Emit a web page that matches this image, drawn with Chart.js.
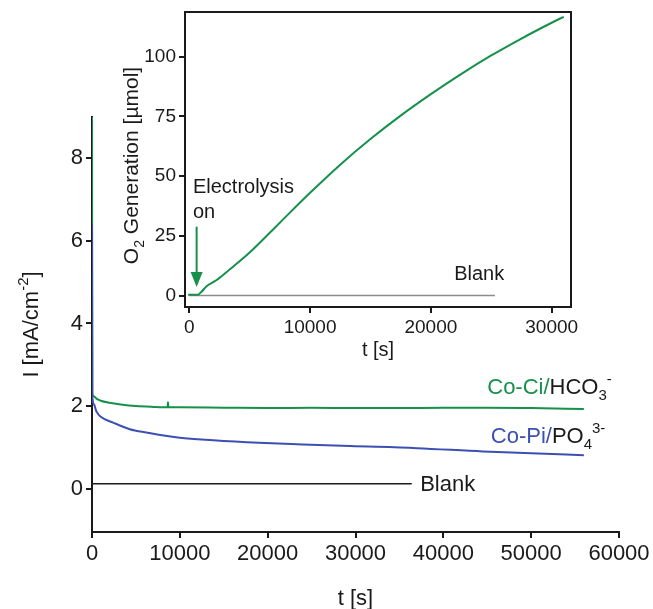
<!DOCTYPE html>
<html>
<head>
<meta charset="utf-8">
<script src="https://cdn.jsdelivr.net/npm/chart.js@4"></script>
<style>
  body { margin: 0; background: #fff; }
  #wrap { position: relative; width: 653px; height: 609px; }
  #mainChart { position: absolute; left: 0; top: 0; }
  #insetChart { position: absolute; left: 100px; top: 0; }
</style>
</head>
<body>
<div id="wrap">
  <canvas id="mainChart" width="653" height="609"></canvas>
  <canvas id="insetChart" width="500" height="370"></canvas>
</div>
<script>
'use strict';

// main plot data (time in s, current in mA/cm2)
var ciTime = [0, 40, 200, 500, 1000, 2000, 3500, 5000, 7000, 8600, 8650, 8700, 10000, 15000, 20000, 25000, 30000, 35000, 40000, 45000, 50000, 56000];
var ciCurrent = [9.0, 2.3, 2.24, 2.18, 2.13, 2.08, 2.03, 2.0, 1.98, 1.97, 2.09, 1.97, 1.97, 1.96, 1.95, 1.96, 1.95, 1.95, 1.96, 1.96, 1.95, 1.93];
var piTime = [0, 30, 200, 500, 1000, 2400, 4300, 6200, 10000, 13800, 19000, 24000, 29400, 37000, 44500, 50000, 56000];
var piCurrent = [6.4, 2.3, 2.05, 1.87, 1.74, 1.6, 1.44, 1.36, 1.23, 1.17, 1.11, 1.07, 1.03, 0.98, 0.9, 0.86, 0.81];
var blankTime = [0, 36400];
var blankCurrent = [0.12, 0.12];
var mainXTicks = [0, 10000, 20000, 30000, 40000, 50000, 60000];
var mainYTicks = [0, 2, 4, 6, 8];

// inset data (time in s, O2 in umol)
var o2Time = [-90, 700, 1000, 1440, 2270, 3370, 5000, 7500, 10000, 12500, 15000, 17500, 20000, 22500, 25000, 27500, 30000, 31000];
var o2Amount = [0.3, 0.3, 1.5, 3.9, 6.5, 11, 18, 30.5, 43, 54.8, 65.5, 75.3, 84.3, 92.7, 100.5, 107.6, 114.2, 116.7];
var o2BlankTime = [0, 25300];
var o2BlankAmount = [0, 0];
var insetXTicks = [0, 10000, 20000, 30000];
var insetYTicks = [0, 25, 50, 75, 100];

var green = '#16904a';
var blue = '#3c50b4';
var ink = '#1a1a1a';
var fontFam = '"Liberation Sans", Arial, sans-serif';

function toPoints(xs, ys) {
    var pts = [];
    for (var i = 0; i < xs.length; i++) {
        pts.push({ x: xs[i], y: ys[i] });
    }
    return pts;
}

// draws text made of parts, some of them sub or superscript
function drawRich(ctx, parts, x, y, size, align) {
    var small = Math.round(size * 0.68);
    var total = 0;
    for (var i = 0; i < parts.length; i++) {
        ctx.font = (parts[i].s ? small : size) + 'px ' + fontFam;
        parts[i].w = ctx.measureText(parts[i].t).width;
        total += parts[i].w;
    }
    var cx = align === 'center' ? x - total / 2 : x;
    ctx.textAlign = 'left';
    ctx.textBaseline = 'alphabetic';
    for (var j = 0; j < parts.length; j++) {
        var p = parts[j];
        var dy = 0;
        if (p.s === 'sub') dy = size * 0.3;
        if (p.s === 'sup') dy = -size * 0.45;
        ctx.font = (p.s ? small : size) + 'px ' + fontFam;
        ctx.fillStyle = p.c || ink;
        ctx.fillText(p.t, cx, y + dy);
        cx += p.w;
    }
}

function keepTicks(list) {
    return function (scale) {
        scale.ticks = list.map(function (v) { return { value: v }; });
    };
}

function noOverhang(scale) {
    scale.paddingLeft = 0;
    scale.paddingRight = 0;
    scale.paddingTop = 0;
    scale.paddingBottom = 0;
}

function axisStyle(size, ticks, extra) {
    var s = {
        type: 'linear',
        afterBuildTicks: keepTicks(ticks),
        grid: { drawOnChartArea: false, drawTicks: true, tickLength: 6, color: ink, lineWidth: 2 },
        border: { display: true, color: ink, width: 2 },
        ticks: {
            color: ink, font: { family: fontFam, size: size }, padding: 3, maxRotation: 0, autoSkip: false,
            callback: function (v) { return String(v); }
        }
    };
    for (var k in extra) s[k] = extra[k];
    return s;
}

// labels for the main plot
var mainLabels = {
    id: 'mainLabels',
    afterDraw: function (chart) {
        var ctx = chart.ctx;
        var xs = chart.scales.x;
        var ys = chart.scales.y;
        var area = chart.chartArea;
        ctx.save();
        drawRich(ctx, [{ t: 'Co-Ci/', c: green }, { t: 'HCO' }, { t: '3', s: 'sub' }, { t: '-', s: 'sup' }],
            xs.getPixelForValue(45000), ys.getPixelForValue(2.30), 22);
        drawRich(ctx, [{ t: 'Co-Pi/', c: blue }, { t: 'PO' }, { t: '4', s: 'sub' }, { t: '3-', s: 'sup' }],
            xs.getPixelForValue(45400), ys.getPixelForValue(1.11), 22);
        drawRich(ctx, [{ t: 'Blank' }], xs.getPixelForValue(37360), ys.getPixelForValue(-0.06), 22);
        // axis titles
        drawRich(ctx, [{ t: 't [s]' }], (area.left + area.right) / 2, area.bottom + 73, 22, 'center');
        ctx.translate(38, (area.top + area.bottom) / 2);
        ctx.rotate(-Math.PI / 2);
        drawRich(ctx, [{ t: 'I [mA/cm' }, { t: '-2', s: 'sup' }, { t: ']' }], 0, 0, 22, 'center');
        ctx.restore();
    }
};

// box, arrow and labels for the inset
var insetLabels = {
    id: 'insetLabels',
    afterDraw: function (chart) {
        var ctx = chart.ctx;
        var xs = chart.scales.x;
        var ys = chart.scales.y;
        var area = chart.chartArea;
        ctx.save();
        ctx.strokeStyle = ink;
        ctx.lineWidth = 2;
        ctx.beginPath();
        ctx.moveTo(area.left, area.top);
        ctx.lineTo(area.right, area.top);
        ctx.lineTo(area.right, area.bottom);
        ctx.stroke();

        drawRich(ctx, [{ t: 'Electrolysis' }], xs.getPixelForValue(306), ys.getPixelForValue(42.9), 20);
        drawRich(ctx, [{ t: 'on' }], xs.getPixelForValue(306), ys.getPixelForValue(32.4), 20);
        drawRich(ctx, [{ t: 'Blank' }], xs.getPixelForValue(21930), ys.getPixelForValue(6.7), 20);

        // arrow pointing at the start of electrolysis
        var ax = xs.getPixelForValue(612);
        var ay0 = ys.getPixelForValue(28.8);
        var ay1 = ys.getPixelForValue(3.6);
        ctx.strokeStyle = green;
        ctx.fillStyle = green;
        ctx.lineWidth = 2;
        ctx.beginPath();
        ctx.moveTo(ax, ay0);
        ctx.lineTo(ax, ay1 - 12);
        ctx.stroke();
        ctx.beginPath();
        ctx.moveTo(ax - 6, ay1 - 15);
        ctx.lineTo(ax + 6, ay1 - 15);
        ctx.lineTo(ax, ay1);
        ctx.closePath();
        ctx.fill();

        drawRich(ctx, [{ t: 't [s]' }], (area.left + area.right) / 2, area.bottom + 49, 20, 'center');
        ctx.translate(38, (area.top + area.bottom) / 2 + 6);
        ctx.rotate(-Math.PI / 2);
        drawRich(ctx, [{ t: 'O' }, { t: '2', s: 'sub' }, { t: ' Generation [µmol]' }], 0, 0, 21, 'center');
        ctx.restore();
    }
};

var mainChart = new Chart(document.getElementById('mainChart').getContext('2d'), {
    type: 'line',
    data: {
        datasets: [
            { label: 'Co-Pi', data: toPoints(piTime, piCurrent), borderColor: blue, borderWidth: 2, order: 0 },
            { label: 'Co-Ci', data: toPoints(ciTime, ciCurrent), borderColor: green, borderWidth: 2, order: 1 },
            { label: 'Blank', data: toPoints(blankTime, blankCurrent), borderColor: ink, borderWidth: 1.5, order: 2 }
        ]
    },
    options: {
        responsive: false,
        animation: false,
        layout: { padding: { left: 0, right: 34, top: 117, bottom: 0 } },
        elements: { point: { radius: 0 }, line: { cubicInterpolationMode: 'monotone', fill: false } },
        plugins: { legend: { display: false }, tooltip: { enabled: false } },
        scales: {
            x: axisStyle(22, mainXTicks, {
                min: 0, max: 60000,
                afterFit: function (s) { s.height = 77; noOverhang(s); }
            }),
            y: axisStyle(22, mainYTicks, {
                min: -1.05, max: 9,
                afterFit: function (s) { s.width = 92; noOverhang(s); }
            })
        }
    },
    plugins: [mainLabels]
});

var insetChart = new Chart(document.getElementById('insetChart').getContext('2d'), {
    type: 'line',
    data: {
        datasets: [
            { label: 'O2', data: toPoints(o2Time, o2Amount), borderColor: green, borderWidth: 2, order: 0 },
            { label: 'Blank', data: toPoints(o2BlankTime, o2BlankAmount), borderColor: '#8c8c8c', borderWidth: 1.5, order: 1 }
        ]
    },
    options: {
        responsive: false,
        animation: false,
        layout: { padding: { left: 0, right: 29, top: 12, bottom: 0 } },
        elements: { point: { radius: 0 }, line: { cubicInterpolationMode: 'monotone', fill: false } },
        plugins: { legend: { display: false }, tooltip: { enabled: false } },
        scales: {
            x: axisStyle(19, insetXTicks, {
                min: -350, max: 31600,
                afterFit: function (s) { s.height = 63; noOverhang(s); }
            }),
            y: axisStyle(19, insetYTicks, {
                min: -4.8, max: 118.7,
                afterFit: function (s) { s.width = 85; noOverhang(s); }
            })
        }
    },
    plugins: [insetLabels]
});
</script>
</body>
</html>
